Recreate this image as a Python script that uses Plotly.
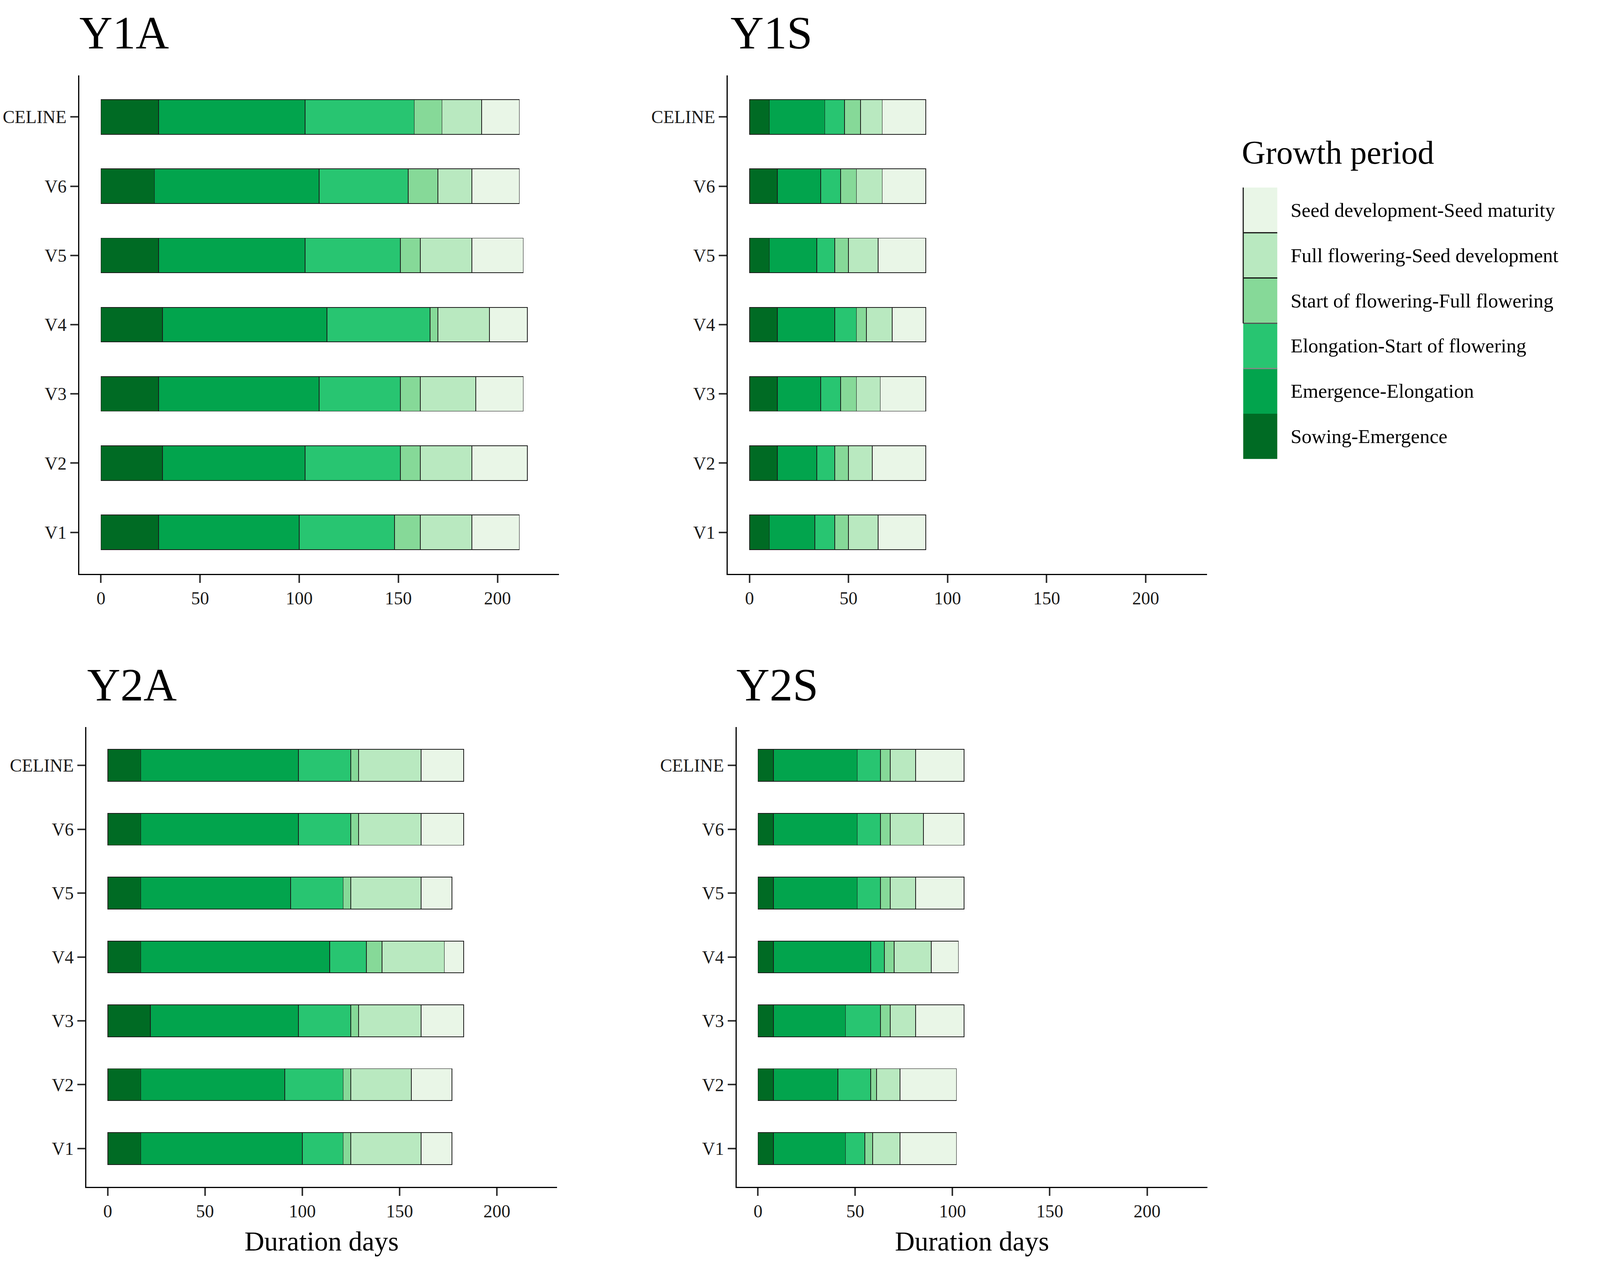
import plotly.graph_objects as go

# ---------------- data ----------------
VARIETIES = ["V1", "V2", "V3", "V4", "V5", "V6", "CELINE"]
STAGES = [
    "Sowing-Emergence",
    "Emergence-Elongation",
    "Elongation-Start of flowering",
    "Start of flowering-Full flowering",
    "Full flowering-Seed development",
    "Seed development-Seed maturity",
]
PANELS = ["Y1A", "Y1S", "Y2A", "Y2S"]
X_TICKS = [0, 50, 100, 150, 200]
X_AXIS_TITLE = "Duration days"
LEGEND_TITLE = "Growth period"

# durations (days), order V1..V6, CELINE
Y1A_SOWING_EMERGENCE = [29, 31, 29, 31, 29, 27, 29]
Y1A_EMERGENCE_ELONGATION = [71, 72, 81, 83, 74, 83, 74]
Y1A_ELONGATION_FLOWERING = [48, 48, 41, 52, 48, 45, 55]
Y1A_FLOWERING_FULL = [13, 10, 10, 4, 10, 15, 14]
Y1A_FULL_SEEDDEV = [26, 26, 28, 26, 26, 17, 20]
Y1A_SEEDDEV_MATURITY = [24, 28, 24, 19, 26, 24, 19]

Y1S_SOWING_EMERGENCE = [10, 14, 14, 14, 10, 14, 10]
Y1S_EMERGENCE_ELONGATION = [23, 20, 22, 29, 24, 22, 28]
Y1S_ELONGATION_FLOWERING = [10, 9, 10, 11, 9, 10, 10]
Y1S_FLOWERING_FULL = [7, 7, 8, 5, 7, 8, 8]
Y1S_FULL_SEEDDEV = [15, 12, 12, 13, 15, 13, 11]
Y1S_SEEDDEV_MATURITY = [24, 27, 23, 17, 24, 22, 22]

Y2A_SOWING_EMERGENCE = [17, 17, 22, 17, 17, 17, 17]
Y2A_EMERGENCE_ELONGATION = [83, 74, 76, 97, 77, 81, 81]
Y2A_ELONGATION_FLOWERING = [21, 30, 27, 19, 27, 27, 27]
Y2A_FLOWERING_FULL = [4, 4, 4, 8, 4, 4, 4]
Y2A_FULL_SEEDDEV = [36, 31, 32, 32, 36, 32, 32]
Y2A_SEEDDEV_MATURITY = [16, 21, 22, 10, 16, 22, 22]

Y2S_SOWING_EMERGENCE = [8, 8, 8, 8, 8, 8, 8]
Y2S_EMERGENCE_ELONGATION = [37, 33, 37, 50, 43, 43, 43]
Y2S_ELONGATION_FLOWERING = [10, 17, 18, 7, 12, 12, 12]
Y2S_FLOWERING_FULL = [4, 3, 5, 5, 5, 5, 5]
Y2S_FULL_SEEDDEV = [14, 12, 13, 19, 13, 17, 13]
Y2S_SEEDDEV_MATURITY = [29, 29, 25, 14, 25, 21, 25]

PANEL_DATA = {
    "Y1A": [Y1A_SOWING_EMERGENCE, Y1A_EMERGENCE_ELONGATION, Y1A_ELONGATION_FLOWERING,
            Y1A_FLOWERING_FULL, Y1A_FULL_SEEDDEV, Y1A_SEEDDEV_MATURITY],
    "Y1S": [Y1S_SOWING_EMERGENCE, Y1S_EMERGENCE_ELONGATION, Y1S_ELONGATION_FLOWERING,
            Y1S_FLOWERING_FULL, Y1S_FULL_SEEDDEV, Y1S_SEEDDEV_MATURITY],
    "Y2A": [Y2A_SOWING_EMERGENCE, Y2A_EMERGENCE_ELONGATION, Y2A_ELONGATION_FLOWERING,
            Y2A_FLOWERING_FULL, Y2A_FULL_SEEDDEV, Y2A_SEEDDEV_MATURITY],
    "Y2S": [Y2S_SOWING_EMERGENCE, Y2S_EMERGENCE_ELONGATION, Y2S_ELONGATION_FLOWERING,
            Y2S_FLOWERING_FULL, Y2S_FULL_SEEDDEV, Y2S_SEEDDEV_MATURITY],
}

# ---------------- style ----------------
COLORS = ["#006B24", "#02A44D", "#28C571", "#86D998", "#B9E9C0", "#E9F6E7"]
FONT = "Liberation Serif, Times New Roman, serif"
# the browser viewport is 4096 x 3238; lay out in reference-relative fractions
W, H = 4096, 3238
REF_W, REF_H = 5357, 3238
TITLE_SIZE = 118
TICK_SIZE = 46
AXIS_TITLE_SIZE = 70
LEGEND_TITLE_SIZE = 84
LEGEND_LABEL_SIZE = 51


def px_x(p):
    return p / REF_W


def px_y(p):
    return 1 - p / REF_H


# panel geometry in reference pixels: (x0, x1, ytop, ybottom)
GEOM = {
    "Y1A": (254.5, 1861, 185, 1461),
    "Y1S": (2426, 4031, 185, 1461),
    "Y2A": (278.6, 1855, 1853, 3030),
    "Y2S": (2455.7, 4032, 1853, 3030),
}
TITLE_POS = {
    "Y1A": (252, 76),
    "Y1S": (2432, 76),
    "Y2A": (279, 1745),
    "Y2S": (2452, 1745),
}

fig = go.Figure()
layout_axes = {}
annotations = []

for i, panel in enumerate(PANELS):
    idx = "" if i == 0 else str(i + 1)
    xref, yref = "x" + idx, "y" + idx
    for s, stage in enumerate(STAGES):
        fig.add_trace(go.Bar(
            x=PANEL_DATA[panel][s], y=VARIETIES, orientation="h",
            name=stage, showlegend=False, width=0.5,
            marker=dict(color=COLORS[s], line=dict(color="#1a1a1a", width=1.8)),
            xaxis=xref, yaxis=yref,
        ))
    x0, x1, yt, yb = GEOM[panel]
    axis_common = dict(
        showline=True, linecolor="black", linewidth=3,
        ticks="outside", ticklen=20, tickwidth=4, tickcolor="#333333",
        showgrid=False, zeroline=False,
        tickfont=dict(family=FONT, size=TICK_SIZE, color="#1a1a1a"),
    )
    layout_axes["xaxis" + idx] = dict(
        domain=[px_x(x0), px_x(x1)], anchor=yref, range=[-11, 231],
        tickvals=X_TICKS, **axis_common,
    )
    layout_axes["yaxis" + idx] = dict(
        domain=[px_y(yb), px_y(yt)], anchor=xref, range=[-0.6, 6.6],
        type="category", categoryorder="array", categoryarray=VARIETIES,
        **axis_common,
    )
    tx, ty = TITLE_POS[panel]
    annotations.append(dict(
        text=panel, x=px_x(tx), y=px_y(ty), xref="paper", yref="paper",
        xanchor="left", yanchor="middle", showarrow=False,
        font=dict(family=FONT, size=TITLE_SIZE, color="black"),
    ))
    if panel in ("Y2A", "Y2S"):
        annotations.append(dict(
            text=X_AXIS_TITLE, x=px_x((x0 + x1) / 2), y=px_y(3169),
            xref="paper", yref="paper", xanchor="center", yanchor="middle",
            showarrow=False, font=dict(family=FONT, size=AXIS_TITLE_SIZE, color="black"),
        ))

# ---------------- legend (drawn manually for large keys) ----------------
shapes = []
key_x0, key_x1 = 4152, 4266
key_top, key_h = 472, 115.8
annotations.append(dict(
    text=LEGEND_TITLE, x=px_x(4145), y=px_y(382), xref="paper", yref="paper",
    xanchor="left", yanchor="middle", showarrow=False,
    font=dict(family=FONT, size=LEGEND_TITLE_SIZE, color="black"),
))
legend_order = list(range(len(STAGES)))[::-1]
for k, s in enumerate(legend_order):
    ky0 = key_top + k * key_h
    ky1 = ky0 + key_h
    shapes.append(dict(
        type="rect", xref="paper", yref="paper",
        x0=px_x(key_x0), x1=px_x(key_x1), y0=px_y(ky1), y1=px_y(ky0),
        fillcolor=COLORS[s], line=dict(width=0), layer="above",
    ))
    annotations.append(dict(
        text=STAGES[s], x=px_x(4308), y=px_y((ky0 + ky1) / 2),
        xref="paper", yref="paper", xanchor="left", yanchor="middle",
        showarrow=False, font=dict(family=FONT, size=LEGEND_LABEL_SIZE, color="black"),
    ))
sep_colors = ["#111111", "#111111", "#555555", "#888888"]
for k, c in enumerate(sep_colors):
    yy = key_top + (k + 1) * key_h
    shapes.append(dict(
        type="line", xref="paper", yref="paper",
        x0=px_x(key_x0), x1=px_x(key_x1), y0=px_y(yy), y1=px_y(yy),
        line=dict(color=c, width=3), layer="above",
    ))
shapes.append(dict(
    type="line", xref="paper", yref="paper",
    x0=px_x(key_x0), x1=px_x(key_x0), y0=px_y(key_top + 3 * key_h), y1=px_y(key_top),
    line=dict(color="#222222", width=3), layer="above",
))

fig.update_layout(
    width=W, height=H, barmode="stack",
    margin=dict(l=0, r=0, t=0, b=0),
    paper_bgcolor="white", plot_bgcolor="white",
    showlegend=False, annotations=annotations, shapes=shapes,
    font=dict(family=FONT),
    **layout_axes,
)

fig.write_html("out.html")
